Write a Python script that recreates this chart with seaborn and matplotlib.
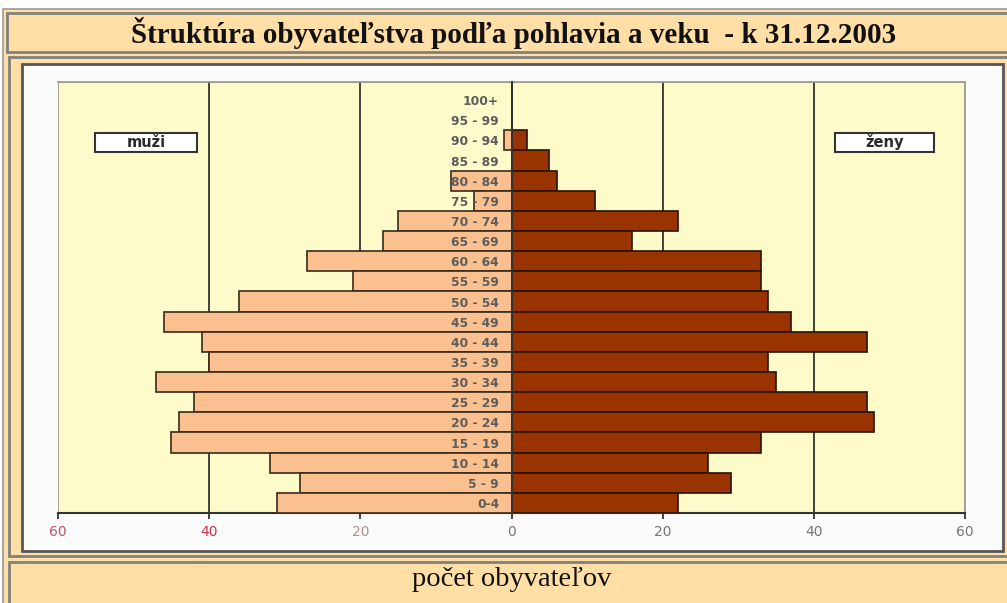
import matplotlib
matplotlib.use("Agg")
import matplotlib.pyplot as plt
from matplotlib.patches import Rectangle
import seaborn as sns
import pandas as pd

# vekové skupiny (zhora nadol)
vek = ['100+', '95 - 99', '90 - 94', '85 - 89', '80 - 84', '75 - 79', '70 - 74',
       '65 - 69', '60 - 64', '55 - 59', '50 - 54', '45 - 49', '40 - 44', '35 - 39',
       '30 - 34', '25 - 29', '20 - 24', '15 - 19', '10 - 14', '5 - 9', '0-4']
muzi = [0, 0, 1, 0, 8, 5, 15, 17, 27, 21, 36, 46, 41, 40, 47, 42, 44, 45, 32, 28, 31]
zeny = [0, 0, 2, 5, 6, 11, 22, 16, 33, 33, 34, 37, 47, 34, 35, 47, 48, 33, 26, 29, 22]

x_ticks = [-60, -40, -20, 0, 20, 40, 60]
x_labels = ['60', '40', '20', '0', '20', '40', '60']
x_label_colors = ['#c45060', '#cc3545', '#b09090', '#777777', '#777777', '#777777', '#777777']

titulok = 'Štruktúra obyvateľstva podľa pohlavia a veku  - k 31.12.2003'
popis_x = 'počet obyvateľov'

BEIGE = '#FFDFA6'
W, H = 1007, 603

sns.set_theme(style='white')
plt.rcParams['font.family'] = ['DejaVu Sans']

fig = plt.figure(figsize=(W / 100, H / 100), dpi=100)
fig.patch.set_facecolor('white')


def ramcek(x0, y0, x1, y1, face, edge, lw=1.5):
    # obdlznik v pixeloch (y zhora), kresleny pod osami
    r = Rectangle((x0 / W, 1 - y1 / H), (x1 - x0) / W, (y1 - y0) / H,
                  transform=fig.transFigure, facecolor=face, edgecolor=edge,
                  linewidth=lw, zorder=-5)
    fig.patches.append(r)


ramcek(3, 9, 1010, 606, BEIGE, '#9a9a9a', 1.2)
ramcek(7, 13, 1010, 52, BEIGE, '#808080', 2.0)
ramcek(9, 57, 1010, 556, BEIGE, '#808080', 2.0)
ramcek(22, 64, 1003, 551, '#FBFBFB', '#555555', 2.0)
ramcek(9, 562, 1010, 606, BEIGE, '#808080', 2.0)

fig.text(514 / W, 1 - 33 / H, titulok, ha='center', va='center',
         fontsize=21, fontweight='bold', family='Liberation Serif', color='#111111')
fig.text(512 / W, 1 - 580 / H, popis_x, ha='center', va='center',
         fontsize=20.5, family='Liberation Serif', color='#111111')

ax = fig.add_axes([58 / W, 1 - 513 / H, (965 - 58) / W, (513 - 82) / H])
ax.set_facecolor('#FEFBCB')

df = pd.DataFrame({'vek': vek * 2,
                   'pocet': [-v for v in muzi] + zeny,
                   'pohlavie': ['muži'] * len(vek) + ['ženy'] * len(vek)})

sns.barplot(data=df[df['pohlavie'] == 'muži'], x='pocet', y='vek', order=vek,
            orient='h', width=1.0, color='#FAC090', saturation=1,
            edgecolor='#3a2a1a', linewidth=1.2, ax=ax, zorder=3)
sns.barplot(data=df[df['pohlavie'] == 'ženy'], x='pocet', y='vek', order=vek,
            orient='h', width=1.0, color='#993300', saturation=1,
            edgecolor='#2a1205', linewidth=1.2, ax=ax, zorder=3)

ax.set_xlim(-60, 60)
ax.set_ylim(20.5, -0.9)

# mriezka
for g in [-40, -20, 20, 40]:
    ax.axvline(g, color='#333333', linewidth=1.3, zorder=1)

for s in ['top', 'right']:
    ax.spines[s].set_color('#9a9a8a')
    ax.spines[s].set_linewidth(1.2)
ax.spines['bottom'].set_color('#333333')
ax.spines['bottom'].set_linewidth(1.5)
ax.spines['left'].set_position(('data', 0))
ax.spines['left'].set_color('#333333')
ax.spines['left'].set_linewidth(1.5)
ax.spines['left'].set_zorder(4)
ax.add_patch(Rectangle((0, 0), 1, 1, transform=ax.transAxes, fill=False,
                       edgecolor='#9a9a8a', linewidth=1.2, zorder=0.5))

ax.set_xticks(x_ticks)
ax.set_xticklabels(x_labels, fontsize=10, family='DejaVu Sans')
for lab, c in zip(ax.get_xticklabels(), x_label_colors):
    lab.set_color(c)
ax.tick_params(axis='x', length=4, width=1.3, color='#333333', pad=5, bottom=True)
ax.tick_params(axis='y', length=0, pad=9)
ax.yaxis.set_zorder(5)
for lab in ax.get_yticklabels():
    lab.set_fontsize(8.8)
    lab.set_fontweight('bold')
    lab.set_color('#5c5c5c')
ax.set_xlabel('')
ax.set_ylabel('')

# popisky muži / ženy
for x0, x1, txt in [(0.041, 0.153, 'muži'), (0.857, 0.966, 'ženy')]:
    ax.add_patch(Rectangle((x0, 0.838), x1 - x0, 0.044, transform=ax.transAxes,
                           facecolor='white', edgecolor='#333333', linewidth=1.5, zorder=6))
    ax.text((x0 + x1) / 2, 0.86, txt, transform=ax.transAxes, ha='center', va='center',
            fontsize=10.5, fontweight='bold', color='#2a2a2a', zorder=7)

fig.savefig('out.png', dpi=100)
